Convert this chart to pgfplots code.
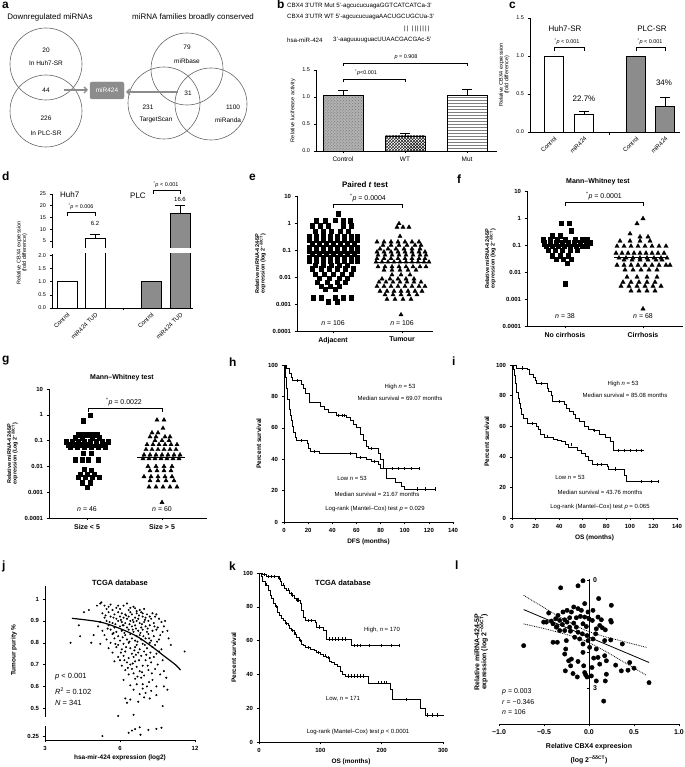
\documentclass[border=0pt]{standalone}
\usepackage{pgfplots}
\pgfplotsset{compat=1.18}
\usepackage{fontspec}
\setmainfont{Liberation Sans}
\usetikzlibrary{patterns,arrows.meta}
\newcommand{\fs}[1]{\fontsize{#1}{#1}\selectfont}
\pgfplotsset{
  base/.style={scale only axis, anchor=south west, clip=false,
    axis lines*=left, axis line style={-,line width=0.6pt},
    every tick/.style={black,line width=0.5pt}, major tick length=2.5pt, minor tick length=0pt,
    tick align=outside, tick label style={font=\fs{5.5}},
    label style={font=\fs{6}},
    /pgf/number format/assume math mode=true},
  bold/.style={tick label style={font=\fs{6}\bfseries}, label style={font=\fs{6.5}\bfseries}},
  dotp/.style={base, bold, ymin=0.0001, ymax=10,
    ytick={0.0001,0.001,0.01,0.1,1,10}, yticklabels={0.0001,0.001,0.01,0.1,1,10},
    xticklabel style={font=\fs{7}\bfseries},
    ylabel style={align=center,font=\fs{5.5}\bfseries}},
  km/.style={base, bold, ymin=0, ymax=100, ytick={0,20,40,60,80,100}},
  cens/.style={only marks, mark=|, mark size=1.6pt, black, mark options={line width=0.5pt}},
  bars/.style={ybar, bar shift=0pt,
    error bars/y dir=plus, error bars/y explicit,
    error bars/error bar style={black,line width=0.6pt},
    error bars/error mark options={black,rotate=90,mark size=5pt,line width=0.6pt}},
}
\tikzset{t/.style={inner sep=0pt,font=\fs{6}}}
\begin{document}
\begin{tikzpicture}[x=1bp,y=1bp]
\useasboundingbox (0,0) rectangle (685,767);
% ---------------- panel letters
\foreach \L/\X/\Y in {a/2/2,b/277/0,c/509/2,d/2/172,e/249/174,f/457/175,g/2/356,h/229/358,i/452/357,j/2/561,k/229/562,l/455/561}
  \node[anchor=north west,inner sep=0pt,font=\fs{12}\bfseries] at (\X,767-\Y) {\L};
% ---------------- panel a (Venn diagrams)
\node[t,font=\fs{8}] at (50,767-17) {Downregulated miRNAs};
\node[t,font=\fs{8}] at (193,767-17) {miRNA families broadly conserved};
\begin{scope}[draw=black!60,line width=0.6pt]
\draw (46,767-64) circle (36);
\draw (46,767-111) circle (36);
\draw (187,767-69) circle (36);
\draw (164,767-103) circle (36);
\draw (211,767-104) circle (36);
\end{scope}
\begin{scope}[every node/.style={t,font=\fs{6.5}}]
\node at (46,767-50) {20};
\node at (46,767-63) {In Huh7-SR};
\node at (46,767-90) {44};
\node at (46,767-118) {226};
\node at (46,767-133) {In PLC-SR};
\node at (187,767-47) {79};
\node at (187,767-61) {miRbase};
\node at (188,767-93) {31};
\node at (148,767-107) {231};
\node at (156,767-120) {TargetScan};
\node at (233,767-107) {1100};
\node at (228,767-120) {miRanda};
\end{scope}
\draw[black!45,line width=1.3pt,-{Straight Barb[length=3pt,width=6pt]}] (64,767-90) -- (88,767-90);
\draw[black!45,line width=1.3pt,-{Straight Barb[length=3pt,width=6pt]}] (178,767-92) -- (126,767-92);
\draw[fill=black!45,draw=black!45,rounded corners=2pt] (90,767-82) rectangle (124,767-99);
\node[t,font=\fs{6.5},text=white] at (107,767-90.5) {miR424};
% ---------------- panel b texts
\begin{scope}[every node/.style={t,font=\fs{6.2},anchor=west}]
\node at (287,767-6) {CBX4 3'UTR Mut 5'-agcucucuagaGGTCATCATCa-3'};
\node at (287,767-17) {CBX4 3'UTR WT 5'-agcucucuagaAACUGCUGCUa-3'};
\node at (404,767-28.5) {|\,|\ \ |\,|\,|\,|\,|\,|\,|};
\node at (287,767-40) {hsa-miR-424};
\node at (333,767-40) {3'-aaguuuuguacUUAACGACGAc-5'};
\end{scope}
% ---------------- panel b chart
\begin{axis}[base, bars, at={(316bp,616bp)}, width=181bp, height=81bp,
  xmin=316, xmax=497, ymin=0, ymax=1.5, bar width=40,
  ytick={0,0.5,1,1.5}, yticklabels={0.0,0.5,1.0,1.5},
  xtick={343,405,467}, xticklabels={Control,WT,Mut},
  xticklabel style={font=\fs{6.5}},
  ylabel={Relative luciferase activity}, ylabel style={font=\fs{5.5}}]
\addplot[draw=black,line width=0.6pt,fill=black!30,postaction={pattern=crosshatch dots,pattern color=black!55}] coordinates {(343,1.03) +- (0,0.1)};
\addplot[draw=black,line width=0.6pt,fill=white,postaction={pattern=crosshatch,pattern color=black}] coordinates {(405,0.28) +- (0,0.05)};
\addplot[draw=black,line width=0.6pt,fill=white,postaction={pattern=horizontal lines,pattern color=black!50}] coordinates {(467,1.03) +- (0,0.12)};
\draw[line width=0.6pt] (axis cs:343,1.27) -- (axis cs:343,1.33) -- (axis cs:405,1.33) -- (axis cs:405,1.27);
\draw[line width=0.6pt] (axis cs:343,1.57) -- (axis cs:343,1.63) -- (axis cs:467,1.63) -- (axis cs:467,1.57);
\node[t,font=\fs{5.5}] at (axis cs:366,1.44) {\textsuperscript{*}\textit{p}<0.001};
\node[t,font=\fs{5.5}] at (axis cs:406,1.74) {\textit{p} = 0.908};
\end{axis}
% ---------------- panel c
\begin{axis}[base, bars, at={(530bp,635bp)}, width=150bp, height=114bp,
  xmin=530, xmax=680, ymin=0, ymax=1.5, bar width=19,
  ytick={0,0.5,1,1.5}, yticklabels={0.0,0.5,1.0,1.5},
  xtick={554,584,636,665}, xticklabels={Control,miR424,Control,miR424},
  xtick style={draw=none},
  xticklabel style={rotate=45,anchor=north east,font=\fs{6},inner sep=1pt},
  ylabel={Relative CBX4 expression\\(fold difference)}, ylabel style={align=center,font=\fs{5.5}}]
\addplot[draw=black,line width=0.6pt,fill=white] coordinates {(554,1)};
\addplot[draw=black,line width=0.6pt,fill=white] coordinates {(584,0.227) +- (0,0.05)};
\addplot[draw=black,line width=0.6pt,fill=black!45] coordinates {(636,1)};
\addplot[draw=black,line width=0.6pt,fill=black!45] coordinates {(665,0.34) +- (0,0.11)};
\draw[line width=0.5pt] (axis cs:609,0) -- (axis cs:609,-0.035);
\draw[line width=0.6pt] (axis cs:554,1.06) -- (axis cs:554,1.11) -- (axis cs:584,1.11) -- (axis cs:584,1.06);
\draw[line width=0.6pt] (axis cs:636,1.06) -- (axis cs:636,1.11) -- (axis cs:665,1.11) -- (axis cs:665,1.06);
\end{axis}
\begin{scope}[every node/.style={t}]
\node[font=\fs{8}] at (565,767-29) {Huh7-SR};
\node[font=\fs{8}] at (652,767-29) {PLC-SR};
\node[font=\fs{5.5}] at (567,767-42) {\textsuperscript{*}\textit{p} < 0.001};
\node[font=\fs{5.5}] at (650,767-42) {\textsuperscript{*}\textit{p} < 0.001};
\node[font=\fs{8}] at (584,767-99) {22.7\%};
\node[font=\fs{8}] at (664,767-83) {34\%};
\end{scope}
% ---------------- panel d
\begin{axis}[base, bars, clip=true, clip mode=individual, at={(52bp,519bp)}, width=141bp, height=54bp,
  xmin=52, xmax=193, ymin=2, ymax=25, bar width=20,
  axis x line=none, ytick={5,10,15,20,25}]
\addplot[draw=black,line width=0.6pt,fill=white] coordinates {(95,6.2) +- (0,1.8)};
\addplot[draw=black,line width=0.6pt,fill=black!45] coordinates {(180,16.6) +- (0,3.7)};
\end{axis}
\begin{axis}[base, bars, clip=true, clip mode=individual, at={(52bp,459bp)}, width=141bp, height=54bp,
  xmin=52, xmax=193, ymin=0, ymax=2.05, bar width=20,
  ytick={0,0.5,1,1.5,2}, yticklabels={0.0,0.5,1.0,1.5,2.0},
  xtick={67,95,151,180}, xticklabels={Control,miR424 TUD,Control,miR424 TUD},
  xtick style={draw=none},
  xticklabel style={rotate=45,anchor=north east,font=\fs{6},inner sep=1pt}]
\addplot[draw=black,line width=0.6pt,fill=white] coordinates {(67,1)};
\addplot[draw=black,line width=0.6pt,fill=white] coordinates {(95,6.2)};
\addplot[draw=black,line width=0.6pt,fill=black!45] coordinates {(151,1)};
\addplot[draw=black,line width=0.6pt,fill=black!45] coordinates {(180,16.6)};
\draw[line width=0.5pt] (axis cs:123,0) -- (axis cs:123,-0.095);
\end{axis}
\node[t,font=\fs{5.5},rotate=90,align=center] at (22,767-253) {Relative CBX4 expression\\(fold difference)};
\begin{scope}[every node/.style={t}]
\node[font=\fs{8},anchor=west] at (60,767-195) {Huh7};
\node[font=\fs{8},anchor=west] at (130,767-196) {PLC};
\node[font=\fs{5.5}] at (81,767-207) {\textsuperscript{*}\textit{p} = 0.006};
\node[font=\fs{6}] at (95,767-223) {6.2};
\node[font=\fs{5.5}] at (166,767-185) {\textsuperscript{*}\textit{p} < 0.001};
\node[font=\fs{6}] at (180,767-199) {16.6};
\end{scope}
\draw[line width=0.6pt] (67,767-216) -- (67,767-212) -- (95,767-212) -- (95,767-216);
\draw[line width=0.6pt] (153,767-194) -- (153,767-190) -- (180,767-190) -- (180,767-194);
% ---------------- panel e
\begin{axis}[ymode=log, dotp, at={(297bp,436bp)}, width=136bp, height=135bp, xmin=297, xmax=433,
  xtick={333,402}, xticklabels={Adjacent,Tumour},
  ylabel={Relative miRNA-424-5P\\expression (log 2\textsuperscript{−δδCT})}]
\addplot[only marks, mark=square*, mark size=2.2pt, black] coordinates {
(338,2.2)
(316,1.2)(325,1.2)(335,1.25)(343,1.2)(350,1.2)
(312,0.8)(320,0.8)(328,0.8)(343,0.8)(351,0.8)
(315,0.5)(323,0.5)(331,0.5)(340,0.5)(348,0.5)
(309,0.32)(316,0.32)(323,0.32)(330,0.32)(337,0.32)(344,0.32)(351,0.32)(357,0.32)
(309,0.24)(316,0.24)(323,0.24)(330,0.24)(337,0.24)(344,0.24)(351,0.24)(357,0.24)
(312,0.17)(319,0.17)(326,0.17)(333,0.17)(340,0.17)(347,0.17)(354,0.17)
(309,0.12)(316,0.12)(323,0.12)(330,0.12)(337,0.12)(344,0.12)(351,0.12)(357,0.12)
(309,0.09)(316,0.09)(323,0.09)(330,0.09)(337,0.09)(344,0.09)(351,0.09)(357,0.09)
(312,0.07)(319,0.07)(326,0.07)(333,0.07)(340,0.07)(347,0.07)(354,0.07)
(309,0.052)(316,0.052)(323,0.052)(330,0.052)(337,0.052)(344,0.052)(351,0.052)(357,0.052)
(309,0.038)(316,0.038)(323,0.038)(330,0.038)(337,0.038)(344,0.038)(351,0.038)(357,0.038)
(315,0.028)(323,0.028)(331,0.028)(339,0.028)(347,0.028)
(312,0.02)(321,0.02)(329,0.02)(337,0.02)(345,0.02)(353,0.02)
(315,0.013)(324,0.013)(333,0.013)(342,0.013)(351,0.013)
(319,0.009)(329,0.009)(339,0.009)(347,0.009)
(317,0.0065)(327,0.0065)(337,0.0065)(345,0.0065)
(321,0.0045)(330,0.0045)(339,0.0045)
(325,0.0035)(335,0.0035)
(313,0.0017)(321,0.0017)(335,0.0017)(343,0.0017)(351,0.0017)
(328,0.0012)(337,0.0012)};
\addplot[only marks, mark=triangle*, mark size=2.4pt, black] coordinates {
(399,0.95)
(397,0.7)(403,0.7)(409,0.7)
(400,0.32)
(377,0.2)(384,0.2)(391,0.2)(398,0.2)(405,0.2)(412,0.2)(419,0.2)
(383,0.15)(391,0.15)(399,0.15)(407,0.15)(415,0.15)(421,0.15)
(380,0.11)(388,0.11)(396,0.11)(404,0.11)(412,0.11)(420,0.11)
(377,0.085)(384,0.085)(391,0.085)(398,0.085)(405,0.085)(412,0.085)(419,0.085)(425,0.085)
(378,0.065)(385,0.065)(392,0.065)(399,0.065)(406,0.065)(413,0.065)(420,0.065)(426,0.065)
(377,0.048)(384,0.048)(391,0.048)(398,0.048)(405,0.048)(412,0.048)(419,0.048)(425,0.048)
(376,0.036)(382,0.036)(388,0.036)(394,0.036)(400,0.036)(406,0.036)(412,0.036)(418,0.036)(424,0.036)(429,0.036)
(378,0.024)(385,0.024)(392,0.024)(399,0.024)(406,0.024)(413,0.024)(420,0.024)(426,0.024)
(384,0.018)(392,0.018)(400,0.018)(408,0.018)(416,0.018)
(392,0.012)(401,0.012)(410,0.012)
(382,0.0085)(390,0.0085)(398,0.0085)(406,0.0085)(414,0.0085)
(379,0.0065)(386,0.0065)(393,0.0065)(400,0.0065)(407,0.0065)(414,0.0065)(421,0.0065)
(377,0.0045)(384,0.0045)(391,0.0045)(398,0.0045)(405,0.0045)(412,0.0045)(419,0.0045)(425,0.0045)
(380,0.003)(387,0.003)(394,0.003)(401,0.003)(408,0.003)(415,0.003)(422,0.003)
(385,0.0022)(393,0.0022)(401,0.0022)(409,0.0022)(417,0.0022)
(387,0.0015)(395,0.0015)(403,0.0015)(411,0.0015)
(401,0.0004)};
\addplot[black,line width=0.9pt] coordinates {(307,0.087)(359,0.087)};
\addplot[black,line width=0.9pt] coordinates {(376,0.036)(428,0.036)};
\end{axis}
\begin{scope}[every node/.style={t}]
\node[font=\fs{8}\bfseries] at (365,767-185) {Paired \textit{t} test};
\node[font=\fs{7}] at (368,767-198) {\textsuperscript{*}\textit{p} = 0.0004};
\node[font=\fs{7}] at (333,767-323) {\textit{n} = 106};
\node[font=\fs{7}] at (402,767-323) {\textit{n} = 106};
\node[font=\fs{7}\bfseries] at (598,767-182) {Mann–Whitney test};
\node[font=\fs{7}] at (604,767-196) {\textsuperscript{*}\textit{p} = 0.0001};
\node[font=\fs{7}] at (565,767-316) {\textit{n} = 38};
\node[font=\fs{7}] at (643,767-316) {\textit{n} = 68};
\node[font=\fs{7}\bfseries] at (122,767-378) {Mann–Whitney test};
\node[font=\fs{7}] at (124,767-402) {\textsuperscript{*}\textit{p} = 0.0022};
\node[font=\fs{7}] at (87,767-509) {\textit{n} = 46};
\node[font=\fs{7}] at (162,767-509) {\textit{n} = 60};
\end{scope}
\draw[line width=0.7pt] (333,767-208) -- (333,767-204) -- (402,767-204) -- (402,767-208);
\draw[line width=0.7pt] (565,767-206) -- (565,767-202) -- (643,767-202) -- (643,767-206);
\draw[line width=0.7pt] (88,767-412) -- (88,767-408) -- (162,767-408) -- (162,767-412);
% ---------------- panel f
\begin{axis}[ymode=log, dotp, at={(527bp,441bp)}, width=156bp, height=135bp, xmin=527, xmax=683,
  xtick={565,643}, xticklabels={No cirrhosis,Cirrhosis},
  ylabel={Relative miRNA-424-5P\\expression (log 2\textsuperscript{−δδCT})}]
\addplot[only marks, mark=square*, mark size=2.3pt, black] coordinates {
(561,0.65)(569,0.65)
(571,0.33)
(552,0.22)(560,0.22)
(543,0.16)(550,0.16)(557,0.16)(565,0.16)(575,0.16)(582,0.16)(587,0.16)
(544,0.12)(550,0.12)(556,0.12)(562,0.12)(568,0.12)(574,0.12)(580,0.12)(586,0.12)(590,0.12)
(546,0.09)(552,0.09)(558,0.09)(564,0.09)(570,0.09)(576,0.09)(582,0.09)(587,0.09)
(548,0.065)(555,0.065)(562,0.065)(570,0.065)(577,0.065)
(552,0.04)(560,0.04)(568,0.04)
(556,0.03)(563,0.03)(571,0.03)
(567,0.021)
(565,0.0037)};
\addplot[only marks, mark=triangle*, mark size=2.5pt, black] coordinates {
(643,0.95)(637,0.62)
(630,0.26)(640,0.2)(648,0.2)
(620,0.14)(630,0.14)(640,0.14)(650,0.14)
(617,0.09)(624,0.09)(631,0.09)(638,0.09)(645,0.09)(652,0.09)(659,0.09)(666,0.09)
(616,0.05)(622,0.05)(628,0.05)(634,0.05)(640,0.05)(646,0.05)(652,0.05)(658,0.05)(664,0.05)
(619,0.033)(626,0.033)(633,0.033)(640,0.033)(647,0.033)(654,0.033)(661,0.033)(667,0.033)
(624,0.028)(632,0.028)(640,0.028)(648,0.028)(656,0.028)(662,0.028)
(617,0.018)(624,0.018)(631,0.018)(638,0.018)(645,0.018)(652,0.018)(659,0.018)(666,0.018)(670,0.018)
(625,0.012)(633,0.012)(641,0.012)(649,0.012)(657,0.012)
(627,0.0065)(637,0.0065)(647,0.0065)(657,0.0065)
(623,0.0042)(631,0.0042)(639,0.0042)(647,0.0042)(655,0.0042)
(621,0.003)(629,0.003)(637,0.003)(645,0.003)(653,0.003)(661,0.003)
(631,0.002)(639,0.002)(647,0.002)(655,0.002)
(643,0.00043)};
\addplot[black,line width=0.9pt] coordinates {(542,0.09)(589,0.09)};
\addplot[black,line width=0.9pt] coordinates {(614,0.035)(667,0.035)};
\end{axis}
% ---------------- panel g
\begin{axis}[ymode=log, dotp, at={(49bp,249bp)}, width=158bp, height=129bp, xmin=49, xmax=207,
  xtick={87,162}, xticklabels={Size < 5,Size > 5},
  ylabel={Relative miRNA-424-5P\\expression (Log 2\textsuperscript{−δδCT})}]
\addplot[only marks, mark=square*, mark size=2.2pt, black] coordinates {
(90,0.95)(83,0.6)
(78,0.17)(83,0.17)(88,0.17)(93,0.17)(97,0.17)
(75,0.13)(82,0.13)(92,0.13)(99,0.13)
(66,0.09)(72,0.09)(78,0.09)(84,0.09)(90,0.09)(96,0.09)(102,0.09)(108,0.09)
(68,0.07)(75,0.07)(82,0.07)(89,0.07)(96,0.07)(103,0.07)
(70,0.055)(77,0.055)(84,0.055)(91,0.055)(98,0.055)(105,0.055)
(83,0.033)(91,0.033)
(75,0.018)(82,0.018)(88,0.018)(98,0.018)
(84,0.008)(91,0.007)
(80,0.005)(87,0.005)(94,0.005)
(78,0.0038)(85,0.0038)(92,0.0038)(99,0.0038)
(82,0.0023)(90,0.0023)
(87,0.0016)};
\addplot[only marks, mark=triangle*, mark size=2.4pt, black] coordinates {
(157,0.63)(164,0.63)
(163,0.3)
(152,0.2)(158,0.2)
(150,0.14)(156,0.14)(165,0.14)(170,0.14)
(155,0.1)(162,0.1)(169,0.1)
(147,0.07)(153,0.07)(159,0.07)(165,0.07)(171,0.07)(177,0.07)
(146,0.045)(152,0.045)(158,0.045)(164,0.045)(170,0.045)(176,0.045)
(144,0.028)(150,0.028)(156,0.028)(162,0.028)(168,0.028)(174,0.028)(180,0.028)
(143,0.02)(149,0.02)(155,0.02)(161,0.02)(167,0.02)(173,0.02)(179,0.02)
(148,0.01)(156,0.01)(164,0.01)(172,0.01)
(150,0.0068)(157,0.0068)(164,0.0068)(171,0.0068)
(144,0.004)(151,0.004)(158,0.004)(165,0.004)(172,0.004)
(150,0.0028)(158,0.0028)(166,0.0028)(174,0.0028)
(149,0.0016)(156,0.0016)(163,0.0016)(170,0.0016)(177,0.0016)
(162,0.0004)};
\addplot[black,line width=0.9pt] coordinates {(64,0.074)(111,0.074)};
\addplot[black,line width=0.9pt] coordinates {(137,0.023)(185,0.023)};
\end{axis}
% ---------------- panel h
\begin{axis}[km, at={(284bp,245bp)}, width=169bp, height=157bp, xmin=0, xmax=140,
  xtick={0,20,...,140}, xlabel={DFS (months)}, ylabel={Percent survival}]
\addplot[const plot, black, line width=0.6pt] coordinates {
(0,100)(2,98)(4,95)(6,92)(7,90)(14,88)(16,85)(18,82)(21,76)(30,74)(33,72)(37,70)(43,68)(52,67)(55,65)(57,62)(60,60)(63,56)(66,52)(68,48)(70,47)(78,44)(80,40)(82,34)(85,28)(92,25)(97,23)(100,21)(126,21)};
\addplot[const plot, black, line width=0.6pt] coordinates {
(0,100)(1,92)(2,85)(3,78)(4,72)(5,68)(6,65)(7,61)(8,57)(9,54)(10,52)(19,50)(20,47)(22,45)(29,43.5)(60,41)(68,40)(72,38.5)(78,37)(80,34)(113,34)};
\addplot[cens] coordinates {(11,90)(45,68)(48,68)(50,68)(72,47)(110,21)(117,21)(125,21)
(14,52)(25,45)(55,43.5)(63,41)(75,38.5)(90,34)(95,34)(100,34)(105,34)(112,34)};
\end{axis}
\begin{scope}[every node/.style={t}]
\node at (400,767-387) {High \textit{n} = 53};
\node at (400,767-398) {Median survival = 69.07 months};
\node at (352,767-478) {Low \textit{n} = 53};
\node at (377,767-494) {Median survival = 21.67 months};
\node at (375,767-509) {Log-rank (Mantel–Cox) test \textit{p} = 0.029};
\node at (623,767-384) {High \textit{n} = 53};
\node at (625,767-395) {Median survival = 85.08 months};
\node at (570,767-477) {Low \textit{n} = 53};
\node at (600,767-492) {Median survival = 43.76 months};
\node at (600,767-507) {Log-rank (Mantel–Cox) test \textit{p} = 0.065};
\end{scope}
% ---------------- panel i
\begin{axis}[km, at={(512bp,249bp)}, width=165bp, height=153bp, xmin=0, xmax=140,
  xtick={0,20,...,140}, xlabel={OS (months)}, ylabel={Percent survival}]
\addplot[const plot, black, line width=0.6pt] coordinates {
(0,100)(4,98)(13,97)(15,94)(18,92)(20,90)(21,88)(30,85)(31,83)(33,80)(34,76)(44,74)(46,72)(49,70)(52,68)(54,65)(57,63)(61,60)(65,58)(69,57)(74,55)(79,53)(83,50)(86,44)(112,44)};
\addplot[const plot, black, line width=0.6pt] coordinates {
(0,100)(1,97)(2,93)(3,88)(4,82)(5,78)(6,75)(7,72)(8,68)(10,65)(13,62)(21,60)(22,58)(24,55)(27,53)(35,51.5)(38,51)(42,50)(45,48)(48,46)(55,44)(59,42)(62,40)(65,38)(68,35)(81,34)(82,32)(95,28)(97,24)(124,24)};
\addplot[cens] coordinates {(9,98)(25,88)(40,76)(70,57)(90,44)(95,44)(100,44)(105,44)(110,44)
(17,62)(30,53)(50,48)(72,35)(76,35)(88,32)(110,24)(118,24)(124,24)};
\end{axis}
% ---------------- panel j
\begin{axis}[xmode=log, log basis x=2, base, bold, at={(45bp,50bp)}, width=150bp, height=131bp,
  xmin=3, xmax=12, ymin=0.46, ymax=1.06,
  axis x line=none, ytick={0.5,0.6,0.7,0.8,0.9,1}, yticklabels={0.5,0.6,0.7,0.8,0.9,1}]
\addplot[only marks, mark=*, mark size=0.8pt, black] coordinates {
(3.8,0.80)(4.1,0.88)(4.15,0.83)(4.3,0.94)(4.5,0.95)(4.6,0.80)(4.7,0.835)(4.85,0.97)(5.0,0.98)(5.05,0.985)
(5.2,0.97)(5.5,0.975)(6.2,0.97)(6.4,0.98)(6.8,0.965)
(5.3,0.955)(5.6,0.95)(5.8,0.96)(6.0,0.955)(6.5,0.95)(6.9,0.958)(7.2,0.95)(7.5,0.955)
(5.1,0.935)(5.4,0.94)(5.7,0.93)(5.9,0.94)(6.1,0.935)(6.3,0.93)(6.6,0.94)(6.7,0.93)(7.0,0.935)(7.3,0.94)(7.7,0.93)(8.1,0.935)(8.4,0.93)
(5.2,0.915)(5.5,0.92)(5.8,0.91)(6.0,0.92)(6.2,0.915)(6.4,0.91)(6.5,0.92)(6.9,0.915)(7.1,0.91)(7.4,0.92)(7.6,0.915)(8.0,0.91)(8.3,0.92)(8.6,0.91)
(5.0,0.895)(5.3,0.9)(5.6,0.89)(5.9,0.9)(6.1,0.895)(6.3,0.89)(6.6,0.9)(6.8,0.895)(7.0,0.9)(7.2,0.89)(7.5,0.895)(7.8,0.9)(8.2,0.89)(8.8,0.895)(9.1,0.9)
(4.9,0.875)(5.4,0.88)(5.7,0.87)(6.0,0.875)(6.2,0.88)(6.4,0.87)(6.7,0.875)(6.9,0.88)(7.3,0.87)(7.6,0.875)(7.9,0.88)(8.5,0.87)(9.0,0.875)
(5.1,0.855)(5.5,0.86)(5.8,0.85)(6.1,0.855)(6.5,0.86)(6.8,0.85)(7.1,0.855)(7.4,0.86)(7.7,0.85)(8.1,0.855)(8.4,0.86)(8.9,0.85)(9.3,0.855)
(5.2,0.835)(5.6,0.84)(5.9,0.83)(6.3,0.835)(6.6,0.84)(7.0,0.83)(7.2,0.835)(7.8,0.84)(8.2,0.83)(8.7,0.835)
(5.3,0.815)(5.7,0.82)(6.0,0.81)(6.4,0.815)(6.7,0.82)(6.9,0.81)(7.3,0.815)(7.6,0.82)(8.0,0.81)(8.6,0.815)(9.4,0.82)
(5.0,0.795)(5.5,0.8)(5.9,0.79)(6.2,0.795)(6.5,0.8)(7.0,0.79)(7.4,0.795)(7.9,0.8)(8.3,0.79)(9.6,0.79)
(5.4,0.775)(5.8,0.78)(6.1,0.77)(6.6,0.775)(6.9,0.78)(7.2,0.77)(7.7,0.775)(8.1,0.78)(8.8,0.77)
(5.6,0.755)(6.3,0.76)(6.7,0.75)(7.1,0.755)(7.5,0.76)(8.4,0.75)(10.9,0.76)
(5.9,0.735)(6.2,0.74)(6.5,0.73)(6.8,0.735)(7.3,0.74)(7.9,0.73)(8.2,0.735)
(5.7,0.715)(6.0,0.72)(6.4,0.71)(6.9,0.715)(7.6,0.72)(8.0,0.71)
(6.1,0.695)(6.6,0.7)(7.0,0.69)(7.4,0.695)(8.5,0.7)
(6.3,0.675)(6.7,0.68)(7.2,0.67)(7.8,0.675)(8.3,0.68)(9.0,0.67)
(6.5,0.655)(6.8,0.66)(7.5,0.65)(8.7,0.655)
(6.9,0.635)(7.3,0.64)(8.1,0.63)(9.2,0.64)
(6.6,0.605)(7.0,0.61)(7.7,0.6)
(6.8,0.585)(7.4,0.59)(8.0,0.58)(9.3,0.585)
(7.2,0.565)(7.6,0.57)(8.4,0.56)
(6.3,0.545)(6.6,0.54)(7.5,0.55)(7.9,0.545)
(6.4,0.525)(7.1,0.53)
(8.9,0.51)(5.9,0.465)(6.8,0.47)
(5.4,0.965)(5.9,0.97)(6.6,0.96)(7.0,0.945)(7.4,0.935)(7.9,0.92)(5.25,0.925)(5.65,0.915)(6.05,0.905)(6.35,0.925)
(6.75,0.905)(7.15,0.925)(7.55,0.905)(5.45,0.895)(5.75,0.885)(6.15,0.88)(6.55,0.885)(6.95,0.865)(7.35,0.885)(7.75,0.865)
(8.25,0.875)(5.35,0.865)(5.65,0.845)(6.25,0.845)(6.75,0.86)(7.25,0.845)(7.85,0.82)(6.15,0.825)(6.55,0.805)(7.05,0.805)
(7.45,0.83)(5.75,0.795)(6.35,0.78)(6.85,0.765)(7.55,0.79)(8.45,0.805)(6.05,0.755)(6.95,0.745)(7.65,0.745)(8.6,0.76)
(6.25,0.72)(7.15,0.72)(7.95,0.755)(6.75,0.705)(7.75,0.695)(8.9,0.72)(6.45,0.685)(7.35,0.665)(8.05,0.66)(7.05,0.645)
(7.85,0.62)(8.4,0.6)(6.2,0.63)(7.4,0.61)(9.0,0.6)};
\addplot[smooth, black, line width=1.2pt] coordinates {(3.85,0.912)(5,0.895)(6,0.865)(7,0.83)(8,0.785)(9,0.74)(10,0.70)(10.5,0.675)};
\end{axis}
\begin{axis}[xmode=log, log basis x=2, base, bold, at={(45bp,27bp)}, width=150bp, height=14bp,
  xmin=3, xmax=12, ymin=0.232, ymax=0.296,
  xtick={3,6,12}, xticklabels={3,6,12}, ytick={0.25}, yticklabels={0.25},
  xlabel={hsa-mir-424 expression (log2)}, xlabel style={yshift=2pt}]
\addplot[only marks, mark=*, mark size=0.8pt, black] coordinates {
(5.1,0.25)(6.5,0.265)(6.7,0.275)(6.9,0.282)(7.2,0.29)(7.25,0.256)(7.8,0.278)(8.4,0.283)(8.8,0.288)};
\end{axis}
\node[t,font=\fs{6.5}\bfseries,rotate=90] at (14,767-650) {Tumour purity \%};
\begin{scope}[every node/.style={t,font=\fs{7.5},anchor=west}]
\node at (55,767-677) {\textit{p} < 0.001};
\node at (55,767-691) {\textit{R}\textsuperscript{2} = 0.102};
\node at (55,767-703) {\textit{N} = 341};
\end{scope}
\node[t,font=\fs{7.5}\bfseries] at (120,767-583) {TCGA database};
% ---------------- panel k
\begin{axis}[km, at={(259bp,25bp)}, width=184bp, height=169bp, xmin=0, xmax=300,
  xtick={0,100,200,300}, xlabel={OS (months)}, ylabel={Percent survival}]
\addplot[const plot, black, line width=0.6pt] coordinates {
(0,100)(5,99)(12,98)(31,97)(35,95)(37,93)(42,91)(45,90)(50,88)(53,87)(57,85)(60,84)(67,82)(69,78)(72,74)(75,72)(91,71)(94,68)(105,66)(110,61)(148,61)(151,57)(230,57)};
\addplot[const plot, black, line width=0.6pt] coordinates {
(0,100)(3,98)(6,95)(10,93)(15,90)(18,87)(20,85)(23,82)(26,80)(30,77)(33,75)(36,73)(39,72)(43,70)(47,69)(50,67)(53,66)(57,64)(61,62)(65,60)(69,58)(72,57)(75,56)(83,55)(90,54)(94,53)(100,52)(105,51)(110,50)(115,48)(118,47)(123,46)(127,45)(132,42)(136,40)(140,39)(176,39)(178,35)(211,35)(214,31)(217,25)(260,25)(263,20)(271,16)(301,16)};
\addplot[cens] coordinates {(8,99)(15,98)(20,98)(25,98)(33,97)(40,93)(47,90)(52,88)(55,87)(62,84)(64,84)(80,72)(85,72)(98,68)(115,61)(120,61)(125,61)(130,61)(135,61)(140,61)(155,57)(160,57)(165,57)(180,57)(200,57)(215,57)(228,57)
(12,93)(28,80)(45,70)(55,66)(59,64)(67,60)(80,56)(97,53)(108,51)(113,50)(145,39)(150,39)(155,39)(160,39)(165,39)(170,39)(195,35)(200,35)(205,35)(207,35)(240,25)(275,16)(283,16)(290,16)};
\end{axis}
\begin{scope}[every node/.style={t}]
\node[font=\fs{7.5}\bfseries] at (343,767-583) {TCGA database};
\node at (382,767-630) {High, \textit{n} = 170};
\node at (343,767-699) {Low, \textit{n} = 171};
\node at (358,767-732) {Log-rank (Mantel–Cox) test \textit{p} < 0.0001};
\end{scope}
% ---------------- panel l
\begin{axis}[base, bold, at={(499bp,43bp)}, width=180bp, height=145bp,
  xmin=-1, xmax=1, ymin=-4, ymax=0.03,
  axis x line*=bottom, axis y line*=middle,
  xtick={-1,-0.5,0,0.5,1}, xticklabels={−1.0,−0.5,0.0,0.5,1.0},
  xticklabel style={font=\fs{7}\bfseries},
  ytick={0,-1,-2,-3}, yticklabels={0,,,3},
  yticklabel style={anchor=west,xshift=3pt,font=\fs{7}\bfseries}]
\addplot[only marks, mark=*, mark size=2.2pt, black] coordinates {
(-0.067,-0.019)(-0.122,-0.159)(-0.315,-0.215)(0.107,-0.514)(-0.048,-0.654)(0.248,-0.701)(-0.170,-0.748)(-0.122,-0.794)(-0.085,-0.841)(-0.244,-0.841)
(-0.448,-0.916)(-0.344,-0.981)(-0.289,-0.888)(-0.196,-0.888)(0.044,-0.841)(0.100,-1.028)(0.0,-1.075)(0.037,-1.121)(0.137,-1.103)(0.241,-1.121)
(0.248,-1.168)(-0.370,-1.075)(-0.326,-1.121)(-0.270,-1.103)(-0.215,-1.047)(-0.141,-1.047)(-0.096,-1.009)(-0.504,-1.168)(-0.400,-1.215)(-0.356,-1.290)
(-0.296,-1.234)(-0.244,-1.168)(-0.170,-1.196)(-0.141,-1.308)(-0.067,-1.215)(-0.030,-1.290)(0.081,-1.355)(0.148,-1.327)(0.181,-1.383)(-0.326,-1.402)
(-0.270,-1.402)(-0.207,-1.421)(-0.122,-1.449)(-0.074,-1.495)(-0.022,-1.542)(0.074,-1.495)(-0.104,-1.636)(-0.011,-1.682)(0.044,-1.636)(0.174,-1.682)
(0.241,-1.664)(0.370,-1.776)(-0.726,-1.822)(-0.400,-1.729)(-0.352,-1.729)(-0.259,-1.916)(-0.067,-1.776)(0.007,-1.869)(0.081,-1.916)(-0.067,-2.009)
(-0.196,-2.196)(-0.226,-2.243)(0.100,-2.150)(0.174,-2.103)(0.193,-2.243)(-0.122,-2.262)(0.119,-2.336)(0.296,-2.364)(0.452,-2.290)(0.500,-2.449)
(-0.263,-2.523)(-0.204,-2.383)(-0.059,-2.383)(0.033,-2.430)(-0.178,-2.598)(-0.130,-2.692)(-0.048,-2.570)(-0.037,-2.636)(-0.022,-2.692)(0.026,-2.664)
(0.193,-2.617)(0.181,-2.804)(0.359,-2.523)(0.433,-2.505)(0.667,-2.850)(0.081,-2.804)(0.163,-3.364)(-0.270,-2.056)(0.052,-2.168)(-0.363,-1.308)
(-0.011,-0.888)(-0.048,-1.028)(-0.215,-1.308)(-0.474,-1.168)(-0.159,-1.589)(-0.419,-1.140)(-0.252,-1.682)(0.119,-1.262)};
\addplot[black, line width=0.8pt] coordinates {(-0.726,-0.82)(0.667,-2.29)};
\addplot[smooth, black, line width=0.8pt, densely dotted] coordinates {(-0.726,-0.42)(-0.5,-0.768)(-0.25,-1.132)(-0.05,-1.383)(0.15,-1.554)(0.4,-1.718)(0.64,-1.871)};
\addplot[smooth, black, line width=0.8pt, densely dotted] coordinates {(-0.726,-1.22)(-0.5,-1.348)(-0.25,-1.512)(-0.05,-1.683)(0.15,-1.934)(0.4,-2.298)(0.64,-2.651)};
\end{axis}
\begin{scope}[every node/.style={t}]
\node[font=\fs{7},anchor=west] at (502,767-692) {\textit{p} = 0.003};
\node[font=\fs{7},anchor=west] at (502,767-702) {\textit{r} = −0.346};
\node[font=\fs{7},anchor=west] at (502,767-712) {\textit{n} = 106};
\node[font=\fs{7}\bfseries] at (589,767-747) {Relative CBX4 expreesion};
\node[font=\fs{7}\bfseries] at (589,767-760) {(log 2\textsuperscript{−δδCT})};
\node[font=\fs{7}\bfseries,rotate=90,align=center] at (481,767-652) {Relative miRNA-424-5P\\expression (log 2\textsuperscript{−δδCT})};
\end{scope}
\end{tikzpicture}
\end{document}
